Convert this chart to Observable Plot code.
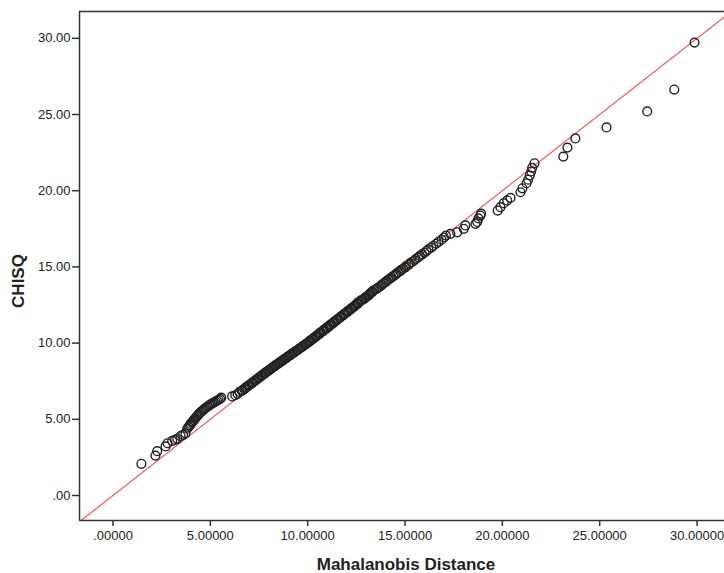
<!DOCTYPE html>
<html>
<head>
<meta charset="utf-8">
<script src="https://cdn.jsdelivr.net/npm/d3@7"></script>
<script src="https://cdn.jsdelivr.net/npm/@observablehq/plot@0.6"></script>
<style>
  html, body { margin: 0; padding: 0; background: #fff; overflow: hidden; }
  svg { display: block; }
</style>
</head>
<body>
<div id="chart"></div>
<script>
// Mahalanobis distance (x) vs. chi-square quantile (y)
const mahalanobis = [
  1.46, 2.18, 2.27, 2.70, 2.80, 3.04, 3.18, 3.30, 3.47, 3.60, 3.72,
  3.81, 3.88, 3.95, 3.98, 4.05, 4.10, 4.15, 4.20, 4.24, 4.30, 4.36, 4.41, 4.47, 4.53,
  4.60, 4.66, 4.72, 4.80, 4.88, 4.95, 5.02, 5.10, 5.18, 5.26, 5.34, 5.42, 5.50, 5.56,
  6.12, 6.28, 6.40,
  6.50, 6.62, 6.65, 6.75, 6.80, 6.82, 6.92, 6.98, 7.02, 7.12,
  7.15, 7.20, 7.30, 7.32, 7.40, 7.48, 7.50, 7.60, 7.65, 7.70,
  7.80, 7.82, 7.90, 7.98, 8.02, 8.10, 8.15, 8.22, 8.30, 8.33,
  8.42, 8.50, 8.55, 8.62, 8.70, 8.74, 8.82, 8.90, 8.94, 9.02,
  9.10, 9.14, 9.22, 9.30, 9.34, 9.42, 9.50, 9.55, 9.62, 9.70,
  9.74, 9.82, 9.90, 9.95, 10.02, 10.10, 10.12, 10.20, 10.28, 10.30,
  10.40, 10.45, 10.48, 10.58, 10.62, 10.66, 10.76, 10.80, 10.84, 10.95,
  10.98, 11.02, 11.12, 11.15, 11.20, 11.30, 11.33, 11.38, 11.48, 11.50,
  11.56, 11.66, 11.68, 11.74, 11.84, 11.86, 11.92, 12.02, 12.04, 12.10,
  12.20, 12.22, 12.28, 12.38, 12.40, 12.46, 12.55, 12.55, 12.60, 12.70,
  12.74, 12.82, 12.92, 12.95, 13.02, 13.12, 13.16, 13.20, 13.30, 13.32,
  13.40, 13.52, 13.58, 13.66, 13.76, 13.82, 13.90, 14.00, 14.06, 14.15,
  14.25, 14.30, 14.40, 14.50, 14.55, 14.65, 14.75, 14.80, 14.90, 15.00,
  15.05, 15.18, 15.25, 15.35, 15.48, 15.55, 15.68, 15.76, 15.88, 16.00,
  16.10, 16.20, 16.35, 16.45, 16.60, 16.72, 16.88, 17.00, 17.10, 17.33,
  17.68, 18.02, 18.10, 18.62, 18.71, 18.77, 18.87, 18.91, 19.76, 19.90,
  20.07, 20.25, 20.42, 20.93, 21.03, 21.24, 21.32, 21.41, 21.48, 21.53,
  21.65, 23.13, 23.34, 23.75, 25.35, 27.44, 28.83, 29.87
];
const chisq = [
  2.08, 2.62, 2.91, 3.22, 3.43, 3.58, 3.65, 3.72, 3.90, 3.98, 4.08,
  4.38, 4.50, 4.60, 4.70, 4.78, 4.86, 4.94, 5.02, 5.10, 5.18, 5.26, 5.35, 5.42, 5.50,
  5.57, 5.64, 5.71, 5.78, 5.85, 5.92, 5.98, 6.04, 6.10, 6.16, 6.22, 6.28, 6.34, 6.42,
  6.50, 6.58, 6.66,
  6.80, 6.86, 6.92, 6.98, 7.04, 7.10, 7.16, 7.22, 7.28, 7.34,
  7.40, 7.46, 7.52, 7.58, 7.64, 7.70, 7.76, 7.82, 7.88, 7.94,
  8.00, 8.06, 8.12, 8.18, 8.24, 8.30, 8.36, 8.42, 8.48, 8.54,
  8.60, 8.66, 8.72, 8.78, 8.84, 8.90, 8.96, 9.02, 9.08, 9.14,
  9.20, 9.26, 9.32, 9.38, 9.44, 9.50, 9.56, 9.62, 9.68, 9.74,
  9.80, 9.86, 9.92, 9.98, 10.04, 10.10, 10.16, 10.22, 10.28, 10.34,
  10.40, 10.46, 10.52, 10.58, 10.64, 10.70, 10.76, 10.82, 10.88, 10.94,
  11.00, 11.06, 11.12, 11.18, 11.24, 11.30, 11.36, 11.42, 11.48, 11.54,
  11.60, 11.66, 11.72, 11.78, 11.84, 11.90, 11.96, 12.02, 12.08, 12.14,
  12.20, 12.26, 12.32, 12.38, 12.44, 12.50, 12.56, 12.62, 12.68, 12.74,
  12.80, 12.86, 12.92, 12.98, 13.05, 13.12, 13.19, 13.26, 13.33, 13.40,
  13.47, 13.54, 13.61, 13.68, 13.76, 13.84, 13.92, 14.00, 14.08, 14.16,
  14.24, 14.32, 14.40, 14.48, 14.56, 14.64, 14.72, 14.80, 14.88, 14.96,
  15.05, 15.14, 15.23, 15.32, 15.42, 15.52, 15.62, 15.72, 15.82, 15.93,
  16.04, 16.15, 16.27, 16.39, 16.52, 16.65, 16.79, 16.93, 17.06, 17.17,
  17.27, 17.50, 17.72, 17.83, 17.95, 18.18, 18.37, 18.50, 18.70, 18.92,
  19.18, 19.36, 19.53, 19.90, 20.16, 20.49, 20.72, 21.00, 21.26, 21.50,
  21.80, 22.24, 22.83, 23.43, 24.15, 25.20, 26.64, 29.72
];

const xTicks = [0, 5, 10, 15, 20, 25, 30];
const xTickLabels = [".00000", "5.00000", "10.00000", "15.00000", "20.00000", "25.00000", "30.00000"];
const yTicks = [0, 5, 10, 15, 20, 25, 30];
const yTickLabels = [".00", "5.00", "10.00", "15.00", "20.00", "25.00", "30.00"];
const xLabel = "Mahalanobis Distance";
const yLabel = "CHISQ";
const xDomain = [-1.72, 31.41];
const yDomain = [-1.64, 31.76];
// reference line y = x
const refLine = [[-5, -5], [40, 40]];

const points = mahalanobis.map((m, i) => ({x: m, y: chisq[i]}));
const font = "'Liberation Sans', Arial, sans-serif";

const chart = Plot.plot({
  width: 724,
  height: 573,
  marginLeft: 79,
  marginTop: 11,
  marginBottom: 53,
  marginRight: 0,
  style: {fontFamily: font, background: "#fff", color: "#222"},
  x: {domain: xDomain},
  y: {domain: yDomain},
  marks: [
    Plot.line(refLine, {x: d => d[0], y: d => d[1], stroke: "#ee5b5b", strokeWidth: 1.2, clip: true}),
    Plot.dot(points, {x: "x", y: "y", r: 4.4, stroke: "#222", strokeWidth: 1.4, fill: "none"}),
    Plot.ruleX([xDomain[0]], {stroke: "#333", strokeWidth: 1.5}),
    Plot.ruleY([yDomain[0], yDomain[1]], {stroke: "#333", strokeWidth: 1.5}),
    Plot.axisX({ticks: xTicks, tickFormat: d => xTickLabels[xTicks.indexOf(d)], tickSize: 6, tickPadding: 4, fontSize: 13, label: null, stroke: "#333", strokeWidth: 1.5}),
    Plot.axisY({ticks: yTicks, tickFormat: d => yTickLabels[yTicks.indexOf(d)], tickSize: 7, tickPadding: 2, fontSize: 13, label: null, stroke: "#333", strokeWidth: 1.5}),
    Plot.text([yLabel], {frameAnchor: "left", textAnchor: "middle", lineAnchor: "middle", dx: -61, dy: 15, rotate: -90, text: d => d, fontSize: 17, fontWeight: "bold", fill: "#222"}),
    Plot.text([xLabel], {frameAnchor: "bottom", textAnchor: "middle", lineAnchor: "middle", dx: 4, dy: 44, text: d => d, fontSize: 17, fontWeight: "bold", fill: "#222"})
  ]
});
document.getElementById("chart").appendChild(chart);
</script>
</body>
</html>
